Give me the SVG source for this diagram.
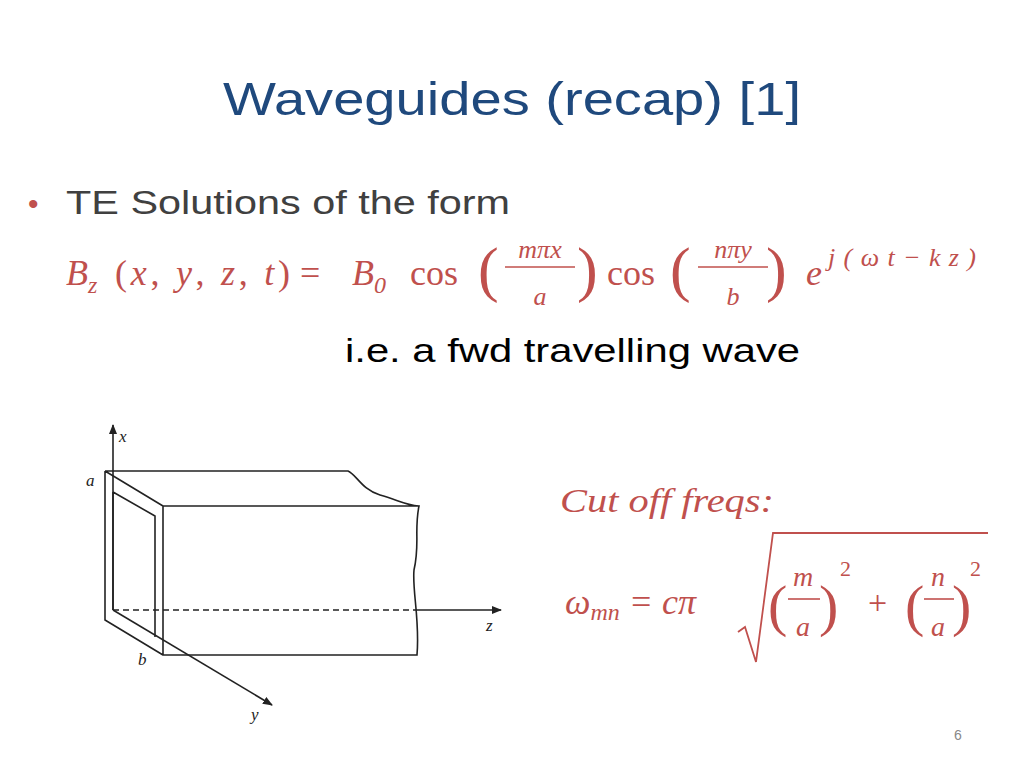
<svg xmlns="http://www.w3.org/2000/svg" width="1024" height="768" viewBox="0 0 1024 768">
<style>
.m{font-family:"Liberation Serif",serif;font-style:italic;fill:#C0504D}
.r{font-family:"Liberation Serif",serif;fill:#C0504D}
.ln{stroke:#222;stroke-width:1.6;fill:none}
</style>
<defs><marker id="ah" markerWidth="10" markerHeight="8" refX="9" refY="4" orient="auto" markerUnits="userSpaceOnUse"><path d="M0,0L10,4L0,8z" fill="#222"/></marker></defs>
<rect width="1024" height="768" fill="#fff"/>
<g id="title"><text x="512" y="115" text-anchor="middle" font-family="Liberation Sans,sans-serif" font-size="46" fill="#1F497D" textLength="578" lengthAdjust="spacingAndGlyphs">Waveguides (recap) [1]</text></g>
<g id="bullet">
<text x="28" y="214" font-family="Liberation Sans,sans-serif" font-size="30" fill="#C0504D">•</text>
<text x="66" y="214" font-family="Liberation Sans,sans-serif" font-size="34" fill="#404040" textLength="444" lengthAdjust="spacingAndGlyphs">TE Solutions of the form</text>
</g>
<g id="equation">
<text x="66" y="285" class="m" font-size="36">B<tspan font-size="24" dy="8">z</tspan></text>
<text x="115" y="285" class="r" font-size="36" textLength="175" lengthAdjust="spacing">(<tspan class="m">x</tspan>, <tspan class="m">y</tspan>, <tspan class="m">z</tspan>, <tspan class="m">t</tspan>)</text>
<text x="300" y="285" class="r" font-size="36">=</text>
<text x="352" y="285" class="m" font-size="36">B<tspan class="r" font-size="24" dy="8">0</tspan></text>
<text x="410" y="285" class="r" font-size="36">cos</text>
<text x="478" y="290" class="r" font-size="62">(</text>
<text x="540" y="258" class="m" font-size="26" text-anchor="middle">mπx</text>
<line x1="505" y1="267" x2="575" y2="267" stroke="#C0504D" stroke-width="1.6"/>
<text x="540" y="305" class="m" font-size="26" text-anchor="middle">a</text>
<text x="577" y="290" class="r" font-size="62">)</text>
<text x="607" y="285" class="r" font-size="36">cos</text>
<text x="670" y="290" class="r" font-size="62">(</text>
<text x="733" y="258" class="m" font-size="26" text-anchor="middle">nπy</text>
<line x1="698" y1="267" x2="768" y2="267" stroke="#C0504D" stroke-width="1.6"/>
<text x="733" y="305" class="m" font-size="26" text-anchor="middle">b</text>
<text x="766" y="290" class="r" font-size="62">)</text>
<text x="806" y="285" class="m" font-size="36">e</text>
<text x="828" y="266" class="m" font-size="26" textLength="148" lengthAdjust="spacing">j<tspan class="r">(</tspan>ωt<tspan class="r">−</tspan>kz<tspan class="r">)</tspan></text>
</g>
<g id="note"><text x="345" y="362" font-family="Liberation Sans,sans-serif" font-size="34" fill="#000" textLength="455" lengthAdjust="spacingAndGlyphs">i.e. a fwd travelling wave</text></g>
<g id="waveguide">
<path class="ln" d="M105,471 H348 C356,474 362,490 380,495 C398,500 405,505 419,506 M163,506 H419 C414,530 420,545 414,570 C412,590 420,620 417,655 H163 Z M105,471 L163,506 M105,471 V620 L163,655 M113,492 L155,516 V637 M113,492 V610"/>
<line class="ln" x1="113" y1="610" x2="113" y2="425" marker-end="url(#ah)"/>
<line class="ln" x1="113" y1="610" x2="413" y2="610" stroke-dasharray="6,4"/>
<line class="ln" x1="413" y1="610" x2="501" y2="610" marker-end="url(#ah)"/>
<line class="ln" x1="113" y1="610" x2="272" y2="705" marker-end="url(#ah)"/>
<g font-family="Liberation Serif,serif" font-style="italic" font-size="17" fill="#222">
<text x="119" y="442">x</text><text x="86" y="486">a</text><text x="138" y="665">b</text><text x="486" y="631">z</text><text x="251" y="720">y</text>
</g>
</g>
<g id="cutoff">
<text x="560" y="512" class="m" font-size="34" textLength="214" lengthAdjust="spacingAndGlyphs">Cut off freqs:</text>
<text x="565" y="614" class="m" font-size="36">ω<tspan font-size="24" dy="6">mn</tspan><tspan class="r" dy="-6"> = </tspan>cπ</text>
<path d="M738,632 L745,627 L756,662 L773,533 H988" fill="none" stroke="#C0504D" stroke-width="1.8"/>
<text x="768" y="625" class="r" font-size="58">(</text>
<text x="803" y="586" class="m" font-size="28" text-anchor="middle">m</text>
<line x1="788" y1="599" x2="820" y2="599" stroke="#C0504D" stroke-width="1.6"/>
<text x="803" y="636" class="m" font-size="28" text-anchor="middle">a</text>
<text x="819" y="625" class="r" font-size="58">)</text>
<text x="840" y="576" class="r" font-size="22">2</text>
<text x="868" y="614" class="r" font-size="34">+</text>
<text x="905" y="625" class="r" font-size="58">(</text>
<text x="938" y="586" class="m" font-size="28" text-anchor="middle">n</text>
<line x1="924" y1="599" x2="954" y2="599" stroke="#C0504D" stroke-width="1.6"/>
<text x="938" y="636" class="m" font-size="28" text-anchor="middle">a</text>
<text x="952" y="625" class="r" font-size="58">)</text>
<text x="970" y="576" class="r" font-size="22">2</text>
</g>
<g id="page"><text x="958" y="740" text-anchor="middle" font-family="Liberation Sans,sans-serif" font-size="14" fill="#888">6</text></g>
</svg>
